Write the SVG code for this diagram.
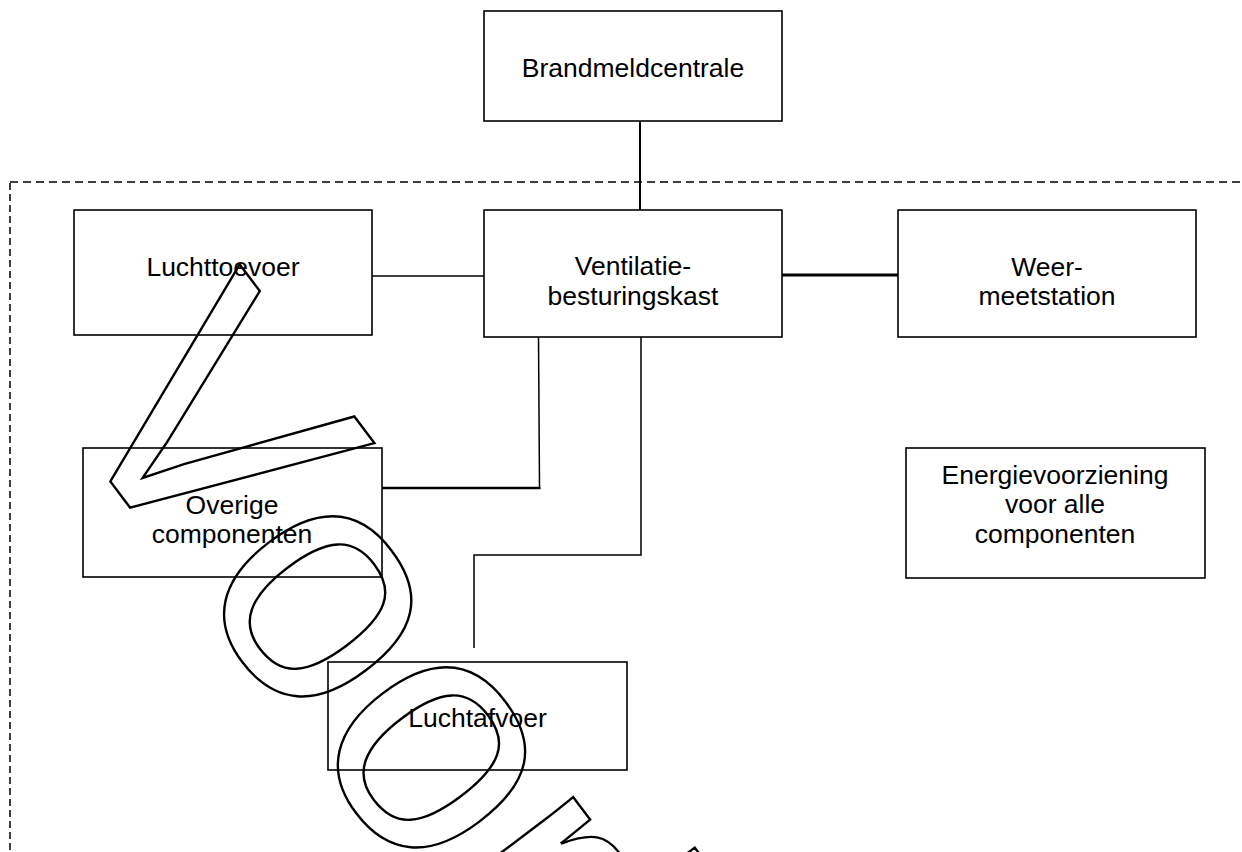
<svg xmlns="http://www.w3.org/2000/svg" width="1242" height="852" viewBox="0 0 1242 852">
<style>
.box{fill:none;stroke:#000;stroke-width:1.6}
.lbl{font-family:"Liberation Sans",Arial,sans-serif;font-size:26.5px;fill:#000;text-anchor:middle}
.ln{fill:none;stroke:#000}
.wm{font-family:"Liberation Sans",Arial,sans-serif;font-size:340px;fill:none;stroke:#000;stroke-width:2.4;font-kerning:none}
</style>
<rect width="1242" height="852" fill="#fff"/>
<g id="boundary">
<line class="ln" x1="10" y1="182" x2="1242" y2="182" stroke-width="1.5" stroke-dasharray="8 5"/>
<line class="ln" x1="10" y1="183" x2="10" y2="852" stroke-width="1.5" stroke-dasharray="7 4"/>
</g>
<g id="connectors">
<line class="ln" x1="640" y1="121" x2="640" y2="210" stroke-width="2"/>
<line class="ln" x1="372" y1="276" x2="484" y2="276" stroke-width="1.4"/>
<line class="ln" x1="782" y1="275" x2="898" y2="275" stroke-width="3"/>
<line class="ln" x1="538.5" y1="337" x2="539.5" y2="488" stroke-width="1.5"/>
<line class="ln" x1="540.5" y1="488" x2="382" y2="488" stroke-width="2.5"/>
<polyline class="ln" points="641,337 641,555 474,555 474,648" stroke-width="1.5"/>
</g>
<g id="brandmeldcentrale">
<rect class="box" x="484" y="11" width="298" height="110"/>
<text class="lbl" x="633" y="77">Brandmeldcentrale</text>
</g>
<g id="luchttoevoer">
<rect class="box" x="74" y="210" width="298" height="125"/>
<text class="lbl" x="223" y="276">Luchttoevoer</text>
</g>
<g id="ventilatie">
<rect class="box" x="484" y="210" width="298" height="127"/>
<text class="lbl" x="633" y="275">Ventilatie-</text>
<text class="lbl" x="633" y="305">besturingskast</text>
</g>
<g id="weermeetstation">
<rect class="box" x="898" y="210" width="298" height="127"/>
<text class="lbl" x="1047" y="276">Weer-</text>
<text class="lbl" x="1047" y="305">meetstation</text>
</g>
<g id="overige">
<rect class="box" x="83" y="448" width="299" height="129"/>
<text class="lbl" x="232" y="514">Overige</text>
<text class="lbl" x="232" y="543">componenten</text>
</g>
<g id="energie">
<rect class="box" x="906" y="448" width="299" height="130"/>
<text class="lbl" x="1055" y="484">Energievoorziening</text>
<text class="lbl" x="1055" y="513">voor alle</text>
<text class="lbl" x="1055" y="543">componenten</text>
</g>
<g id="luchtafvoer">
<rect class="box" x="328" y="662" width="299" height="108"/>
<text class="lbl" x="477.5" y="727">Luchtafvoer</text>
</g>
<g id="watermark">
<text class="wm" transform="translate(52,404) rotate(53)" x="0" y="0">Voorbeeld</text>
</g>
</svg>
